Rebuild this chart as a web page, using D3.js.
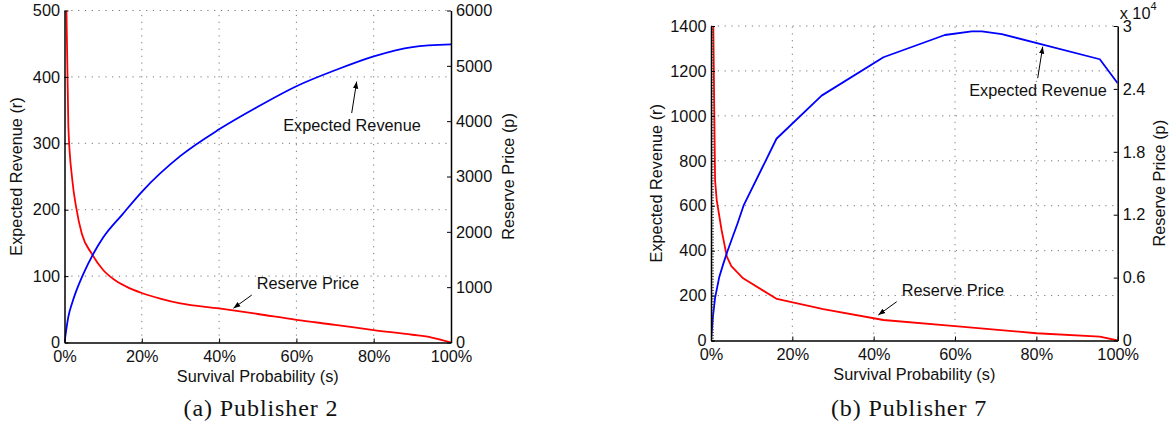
<!DOCTYPE html>
<html>
<head>
<meta charset="utf-8">
<script src="https://cdn.jsdelivr.net/npm/d3@7"></script>
<style>
  html, body { margin: 0; padding: 0; background: #fff; }
  svg { display: block; }
</style>
</head>
<body>
<svg id="chart" width="1174" height="425"></svg>
<script>
// ---- Publisher 2 ----
const survivalRevA = [0, 0.01, 0.02, 0.03, 0.05, 0.075, 0.10, 0.15, 0.20, 0.30, 0.40, 0.50, 0.60, 0.70, 0.80, 0.90, 1.00];
const revenueA     = [0, 39, 60, 77, 105, 134, 158, 193, 227, 281, 321, 355, 386, 410, 431, 445, 449];
const survivalPriceA = [0.005, 0.01, 0.02, 0.03, 0.045, 0.07, 0.10, 0.13, 0.16, 0.20, 0.25, 0.30, 0.40, 0.50, 0.60, 0.70, 0.80, 0.90, 0.95, 1.00];
const priceA         = [6000, 3900, 2950, 2450, 1960, 1610, 1310, 1130, 1010, 895, 790, 705, 615, 515, 410, 320, 225, 140, 90, 0];
const revTicksA   = [0, 100, 200, 300, 400, 500];
const priceTicksA = [0, 1000, 2000, 3000, 4000, 5000, 6000];

// ---- Publisher 7 ----
const survivalRevB = [0, 0.005, 0.01, 0.02, 0.03, 0.04, 0.05, 0.065, 0.08, 0.161, 0.272, 0.424, 0.575, 0.641, 0.666, 0.715, 0.956, 1.0];
const revenueB     = [0, 110, 190, 280, 340, 395, 445, 520, 600, 898, 1090, 1261, 1360, 1376, 1376, 1364, 1252, 1145];
const survivalPriceB = [0.0057, 0.010, 0.014, 0.026, 0.039, 0.05, 0.063, 0.079, 0.162, 0.276, 0.424, 0.60, 0.80, 0.956, 1.0];
const priceB         = [30000, 15300, 13400, 10540, 8000, 7100, 6560, 5930, 3960, 3000, 1956, 1380, 690, 360, 0];
const revTicksB   = [0, 200, 400, 600, 800, 1000, 1200, 1400];
const priceTicksB = [0, 6000, 12000, 18000, 24000, 30000];
const priceTickLabelsB = ["0", "0.6", "1.2", "1.8", "2.4", "3"];

// ---- shared ----
const survivalTicks = [0, 0.2, 0.4, 0.6, 0.8, 1.0];
const xLabel = "Survival Probability (s)";
const yLabelLeft = "Expected Revenue (r)";
const yLabelRight = "Reserve Price (p)";
const revenueNote = "Expected Revenue";
const priceNote = "Reserve Price";

const SANS = '"Liberation Sans", Arial, Helvetica, sans-serif';
const SERIF = '"Liberation Serif", "Times New Roman", serif';
const FS = 16.3;

const svg = d3.select("#chart");
const defs = svg.append("defs");
defs.append("marker")
  .attr("id", "arrowhead")
  .attr("viewBox", "0 0 10 10")
  .attr("refX", 10).attr("refY", 5)
  .attr("markerWidth", 7).attr("markerHeight", 7)
  .attr("markerUnits", "userSpaceOnUse")
  .attr("orient", "auto")
  .append("path")
  .attr("d", "M0,1.2 L10,5 L0,8.8 Z")
  .attr("fill", "#000");

function styleAxis(g) {
  g.attr("font-family", SANS).attr("font-size", FS);
  g.select(".domain").attr("stroke", "#000").attr("stroke-width", 1.5);
  g.selectAll(".tick line").attr("stroke", "#000").attr("stroke-width", 1);
  g.selectAll(".tick text").attr("fill", "#111");
}

function drawPanel(p) {
  const g = svg.append("g");
  const x = d3.scaleLinear().domain([0, 1]).range([p.left, p.right]);
  const yL = d3.scaleLinear().domain([0, p.revMax]).range([p.bottom, p.top]);
  const yR = d3.scaleLinear().domain([0, p.priceMax]).range([p.bottom, p.top]);

  // dotted grid
  const grid = g.append("g")
    .attr("stroke", "#777").attr("stroke-width", 1)
    .attr("stroke-dasharray", "1.2,5.6");
  grid.selectAll("line.v").data(survivalTicks.filter(d => d > 0 && d < 1)).join("line")
    .attr("x1", d => x(d)).attr("x2", d => x(d))
    .attr("y1", p.bottom).attr("y2", p.top);
  grid.selectAll("line.h").data(p.revTicks.filter(d => d > 0)).join("line")
    .attr("y1", d => yL(d)).attr("y2", d => yL(d))
    .attr("x1", p.left).attr("x2", p.right);

  // clip
  const clipId = "clip-" + p.id;
  defs.append("clipPath").attr("id", clipId).append("rect")
    .attr("x", p.left).attr("y", p.top)
    .attr("width", p.right - p.left).attr("height", p.bottom - p.top);

  // series
  const revLine = d3.line().curve(p.curve).x(d => x(d[0])).y(d => yL(d[1]));
  const priceLine = d3.line().curve(p.curve).x(d => x(d[0])).y(d => yR(d[1]));
  const plot = g.append("g").attr("clip-path", `url(#${clipId})`)
    .attr("fill", "none").attr("stroke-width", 1.8).attr("stroke-linejoin", "round");
  plot.append("path")
    .attr("d", priceLine(d3.zip(p.sPrice, p.price)))
    .attr("stroke", "#ff0000");
  plot.append("path")
    .attr("d", revLine(d3.zip(p.sRev, p.rev)))
    .attr("stroke", "#0000ff");

  // minor ticks on the revenue axis
  if (p.minorStep) {
    const minor = g.append("g").attr("transform", `translate(${p.left},0)`)
      .call(d3.axisLeft(yL).tickValues(d3.range(0, p.revMax + 0.001, p.minorStep))
        .tickSize(-3).tickSizeOuter(0).tickFormat(""));
    minor.select(".domain").remove();
    minor.selectAll(".tick line").attr("stroke", "#444").attr("stroke-width", 0.9);
  }

  // axes
  const ax = g.append("g").attr("transform", `translate(0,${p.bottom})`)
    .call(d3.axisBottom(x).tickValues(survivalTicks).tickSize(-4).tickSizeOuter(0)
      .tickPadding(8.4).tickFormat(d => Math.round(d * 100) + "%"));
  styleAxis(ax);

  const axL = g.append("g").attr("transform", `translate(${p.left},0)`)
    .call(d3.axisLeft(yL).tickValues(p.revTicks).tickSize(-4).tickSizeOuter(0).tickPadding(4.5)
      .tickFormat(d => String(d)));
  styleAxis(axL);

  const axR = g.append("g").attr("transform", `translate(${p.right},0)`)
    .call(d3.axisRight(yR).tickValues(p.priceTicks).tickSize(-4).tickSizeOuter(0).tickPadding(5)
      .tickFormat((d, i) => p.priceLabels ? p.priceLabels[i] : String(d)));
  styleAxis(axR);

  if (p.exponent) {
    const t = g.append("text")
      .attr("x", p.right + 2).attr("y", p.top - 7)
      .attr("font-family", SANS).attr("font-size", FS).attr("fill", "#111")
      .text("x 10");
    t.append("tspan").attr("dy", -9).attr("font-size", 11).text(p.exponent);
  }

  // axis titles
  const midY = (p.top + p.bottom) / 2;
  g.append("text")
    .attr("x", (p.left + p.right) / 2).attr("y", p.bottom + p.xLabelGap)
    .attr("text-anchor", "middle")
    .attr("font-family", SANS).attr("font-size", FS).attr("fill", "#111")
    .text(xLabel);
  g.append("text")
    .attr("transform", `translate(${p.left - p.yLeftGap},${midY}) rotate(-90)`)
    .attr("text-anchor", "middle")
    .attr("font-family", SANS).attr("font-size", FS).attr("fill", "#111")
    .text(yLabelLeft);
  g.append("text")
    .attr("transform", `translate(${p.right + p.yRightGap},${midY}) rotate(-90)`)
    .attr("text-anchor", "middle")
    .attr("font-family", SANS).attr("font-size", FS).attr("fill", "#111")
    .text(yLabelRight);

  // annotations
  const rx = x(p.revNote[0]), ry = yL(p.revNote[1]);
  g.append("line")
    .attr("x1", rx - 5).attr("y1", ry + 31.5)
    .attr("x2", rx).attr("y2", ry)
    .attr("stroke", "#000").attr("stroke-width", 1)
    .attr("marker-end", "url(#arrowhead)");
  g.append("text")
    .attr("x", rx - 73.5).attr("y", ry + 49)
    .attr("font-family", SANS).attr("font-size", FS).attr("fill", "#111")
    .text(revenueNote);

  const qx = x(p.priceNote[0]), qy = yR(p.priceNote[1]);
  g.append("line")
    .attr("x1", qx + 18.4).attr("y1", qy - 13.3)
    .attr("x2", qx).attr("y2", qy)
    .attr("stroke", "#000").attr("stroke-width", 1)
    .attr("marker-end", "url(#arrowhead)");
  g.append("text")
    .attr("x", qx + 23.4).attr("y", qy - 19.3)
    .attr("font-family", SANS).attr("font-size", FS).attr("fill", "#111")
    .text(priceNote);

  // caption
  g.append("text")
    .attr("x", p.captionX).attr("y", 416)
    .attr("text-anchor", "middle")
    .attr("font-family", SERIF).attr("font-size", 24).attr("letter-spacing", 0.9)
    .attr("fill", "#111")
    .text(p.caption);
}

drawPanel({
  id: "a", left: 64.5, right: 451, top: 10.5, bottom: 342.5,
  revMax: 500, priceMax: 6000, curve: d3.curveMonotoneX,
  revTicks: revTicksA, priceTicks: priceTicksA,
  sRev: survivalRevA, rev: revenueA, sPrice: survivalPriceA, price: priceA,
  xLabelGap: 39.5, yLeftGap: 43, yRightGap: 62.5,
  revNote: [0.756, 393], priceNote: [0.437, 618],
  caption: "(a) Publisher 2", captionX: 261
});

drawPanel({
  id: "b", left: 711, right: 1117.7, top: 26, bottom: 340.5,
  revMax: 1400, priceMax: 30000, minorStep: 12.5, curve: d3.curveLinear,
  revTicks: revTicksB, priceTicks: priceTicksB, priceLabels: priceTickLabelsB,
  exponent: "4",
  sRev: survivalRevB, rev: revenueB, sPrice: survivalPriceB, price: priceB,
  xLabelGap: 39.5, yLeftGap: 49.5, yRightGap: 47.3,
  revNote: [0.8156, 1308], priceNote: [0.4114, 2432],
  caption: "(b) Publisher 7", captionX: 909
});
</script>
</body>
</html>
